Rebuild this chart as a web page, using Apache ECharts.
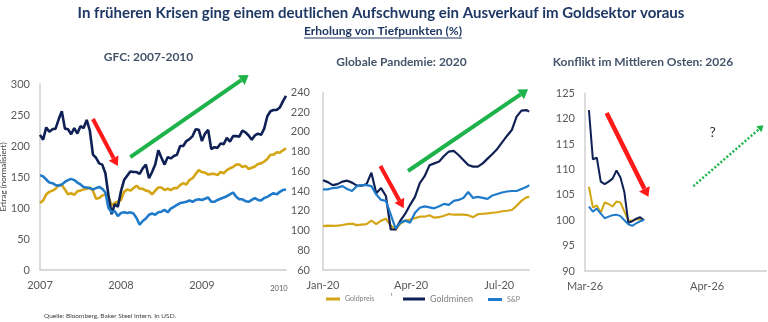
<!DOCTYPE html>
<html><head><meta charset="utf-8">
<script src="https://cdn.jsdelivr.net/npm/echarts@6/dist/echarts.min.js"></script>
<style>html,body{margin:0;padding:0;background:#fff}#c{width:768px;height:322px}</style>
</head><body><div id="c"></div>
<script>
// ---------- DATA ----------
// Panel 1: GFC 2007-2010, bi-weekly observations starting 2007-01-01
const cats1 = [];
for (let i = 0; i < 80; i++) { const d = new Date(Date.UTC(2007, 0, 1 + 14 * i)); cats1.push(d.toISOString().slice(0, 10)); }
const yearTicks1 = {0: '2007', 26: '2008', 52: '2009', 78: '2010'};
const gold1 = [108,112,122,126,128,131,137,137,130,122, 124,121,127,128,130,131,133,128,115,116,
  120,122,118,104,108,110,113,126,130,128, 132,136,131,131,128,127,122,128,133,133,
  129,131,129,132,132,137,140,138,145,148, 155,161,158,157,154,155,155,153,158,156,
  161,164,166,170,170,166,168,163,165,167, 171,172,175,179,186,186,190,189,193,196];
const miners1 = [218,210,230,223,227,228,243,256,228,227, 219,229,220,232,229,242,225,186,181,172,
  170,156,120,90,106,102,127,145,152,159, 158,158,155,164,170,148,158,170,193,181,
  170,182,180,184,186,200,200,208,211,216, 227,226,208,220,226,195,198,197,204,203,
  213,207,216,216,215,225,222,217,210,217, 220,218,228,248,256,258,258,262,272,281];
const sp1 = [153,151,146,141,140,137,136,138,142,145, 147,145,141,138,134,133,132,130,132,134,
  131,125,100,93,95,87,92,93,92,93, 91,84,73,79,83,89,91,89,93,94,
  97,93,99,102,105,108,109,110,112,110, 113,114,113,115,117,110,110,113,115,117,
  119,122,125,118,114,114,111,110,113,116, 113,112,116,118,121,124,122,126,129,130];

// Panel 2: Pandemic 2020, day of year
const days2 = [0,5,10,15,20,25,30,35,40,45,50,55,60,65,70,75,80,85,90,95,100,105,110,115,120,125,130,135,140,145,150,155,160,165,170,175,180,185,190,195,200,205,210,213];
const quarterTicks2 = {0: 'Jan-20', 91: 'Apr-20', 182: 'Jul-20'};
const gold2 = [104.5,105,104.6,105,105.6,106.5,107,105.5,106,106.5, 110,106.5,110,112,105,101,107,110,111,112.5,
  114,114,115.5,113,113.5,115,116.7,116,116,116, 115.5,113.5,116.5,117,117.4,118,118.5,119.5,120,120.8,
  125,130,133.5,134];
const miners2 = [151,149,146,147,149.5,150.5,148.5,145.4,145.4,147, 158.6,137.7,143,135,101,101,110,117,126,134,
  148,155,166,168,170,175.5,180,180.6,176.5,171.5, 166.4,164.7,164.7,168,172.8,177.5,182.6,189.3,195.8,201.8,
  215.4,221.4,222,220.4];
const sp2 = [141.7,141.7,143,143.4,145,142,140,145,146,146, 145,136.5,131,130,116,102,108,110,108,118,
  123,124.5,123.5,122.5,124.5,127,126,130,131,133, 139,133,134,133,132,135.5,137,138.5,139.5,140,
  140,142,144,146];

// Panel 3: Middle East conflict 2026, days after 1 March
const days3 = [1,2,3,4,5,6,7,8,9,10,11,12,13,14,15];
const monthTicks3 = {0: 'Mar-26', 31: 'Apr-26'};
const gold3 = [106.6,102.5,102.9,101.5,103.5,103.2,102.7,103.7,103.5,101.7,100,99.9,100.2,100.2,100];
const miners3 = [121.7,112,112.3,107.6,107.1,107.6,108.2,109.8,108.4,105.5,99.5,99.8,100.3,100.6,100];
const sp3 = [102.7,101.7,102.3,101.3,100.4,100.7,101,101.1,100.8,100,99.2,98.9,99.4,99.8,100.1];

const names = ['Goldpreis', 'Goldminen', 'S&P'];
const colors = ['#d4a514', '#0f2055', '#1f7bc9'];

// ---------- CHART ----------
const FONT = 'Lato, "Open Sans", sans-serif';
const LBL = '#595959', AX = '#d9d9d9';
const chart = echarts.init(document.getElementById('c'), null, {renderer: 'canvas'});

function xy(xs, ys) { return xs.map((x, i) => [x, ys[i]]); }
function baseAxis(extra) {
  return Object.assign({
    axisLine: {show: true, lineStyle: {color: AX, width: 1.8}},
    axisTick: {show: false}, splitLine: {show: false},
    axisLabel: {color: LBL, fontSize: 11, fontFamily: FONT, margin: 10}
  }, extra);
}
function line(name, color, g, data, w) {
  return {name, type: 'line', xAxisIndex: g, yAxisIndex: g, data, symbol: 'none', color,
    lineStyle: {width: w, color}, animation: false};
}

const grids = [
  {left: 40, top: 84, width: 246, height: 186},
  {left: 323, top: 92.3, width: 206.2, height: 177.7},
  {left: 585, top: 93.3, width: 181.2, height: 177.7}
].map(g => Object.assign(g, {containLabel: false, outerBoundsMode: 'none'}));

const xAxes = [
  baseAxis({gridIndex: 0, type: 'category', data: cats1, boundaryGap: false,
    axisLabel: {color: LBL, fontSize: 11, fontFamily: FONT, margin: 10,
      interval: (i) => yearTicks1[i] !== undefined,
      formatter: (v, i) => i === 78 ? '{s|' + yearTicks1[i] + '}' : (yearTicks1[i] || ''),
      rich: {s: {fontSize: 7.5, color: LBL, fontFamily: FONT, padding: [5, 8, 0, 0]}}}}),
  baseAxis({gridIndex: 1, type: 'value', min: 0, max: 213, interval: 91,
    axisLabel: {color: LBL, fontSize: 11, fontFamily: FONT, margin: 10, showMaxLabel: false,
      formatter: v => quarterTicks2[v] || ''}}),
  baseAxis({gridIndex: 2, type: 'value', min: 0, max: 46, interval: 31,
    axisLabel: {color: LBL, fontSize: 11, fontFamily: FONT, margin: 10, showMaxLabel: false,
      formatter: v => monthTicks3[v] || ''}})
];
const yAxes = [
  baseAxis({gridIndex: 0, type: 'value', min: 0, max: 300, interval: 50,
    name: 'Ertrag (normalisiert)', nameLocation: 'middle', nameGap: 32,
    nameTextStyle: {fontSize: 8, color: '#404040', fontFamily: FONT}}),
  baseAxis({gridIndex: 1, type: 'value', min: 60, max: 240, interval: 20,
    axisLabel: {color: LBL, fontSize: 11, fontFamily: FONT, margin: 13}}),
  baseAxis({gridIndex: 2, type: 'value', min: 90, max: 125, interval: 5})
];

const series = [
  line(names[0], colors[0], 0, gold1, 2.6), line(names[1], colors[1], 0, miners1, 2.6), line(names[2], colors[2], 0, sp1, 2.6),
  line(names[0], colors[0], 1, xy(days2, gold2), 2.2), line(names[1], colors[1], 1, xy(days2, miners2), 2.2), line(names[2], colors[2], 1, xy(days2, sp2), 2.2),
  line(names[0], colors[0], 2, xy(days3, gold3), 2), line(names[1], colors[1], 2, xy(days3, miners3), 2), line(names[2], colors[2], 2, xy(days3, sp3), 2)
];

function leg(name, left, top, w, fs) {
  return {data: [name], left, top, icon: 'rect', itemWidth: w, itemHeight: 3, itemGap: 0,
    textStyle: {color: '#7f7f7f', fontSize: fs, fontFamily: FONT}, padding: 0, selectedMode: false};
}

chart.setOption({
  animation: false,
  grid: grids, xAxis: xAxes, yAxis: yAxes, series,
  legend: [leg(names[0], 326, 295.5, 14, 7), leg(names[1], 403, 294.5, 22, 9), leg(names[2], 488, 296, 14, 7)]
});

// ---------- ANNOTATIONS ----------
function arrow(g, a, b, color, width, dash, headL, headW) {
  const p1 = chart.convertToPixel({gridIndex: g}, a);
  const p2 = chart.convertToPixel({gridIndex: g}, b);
  const dx = p2[0] - p1[0], dy = p2[1] - p1[1], L = Math.hypot(dx, dy), ux = dx / L, uy = dy / L;
  const bx = p2[0] - ux * headL, by = p2[1] - uy * headL;
  return [
    {type: 'line', silent: true, shape: {x1: p1[0], y1: p1[1], x2: bx, y2: by},
      style: {stroke: color, lineWidth: width, lineDash: dash || null}},
    {type: 'polygon', silent: true, shape: {points: [[p2[0], p2[1]], [bx - uy * headW, by + ux * headW], [bx + uy * headW, by - ux * headW]]},
      style: {fill: color}}
  ];
}
const RED = '#ff1a1a', GREEN = '#1db34a';
const title = 'In früheren Krisen ging einem deutlichen Aufschwung ein Ausverkauf im Goldsektor voraus';
const subtitle = 'Erholung von Tiefpunkten (%)';
const subFont = 'bold 12px ' + FONT;
const ctx = document.createElement('canvas').getContext('2d');
ctx.font = subFont;
const subW = ctx.measureText(subtitle).width;

function txt(x, y, text, font, fill, align) {
  return {type: 'text', x, y, silent: true,
    style: {text, font, fill, textAlign: align || 'center', textVerticalAlign: 'middle'}};
}

const g = [
  txt(381, 13, title, 'bold 15px ' + FONT, '#1f3864'),
  txt(383, 31, subtitle, subFont, '#1f3864'),
  {type: 'line', silent: true, shape: {x1: 383 - subW / 2, y1: 38, x2: 383 + subW / 2, y2: 38}, style: {stroke: '#1f3864', lineWidth: 1}},
  txt(148.5, 57, 'GFC: 2007-2010', 'bold 12px ' + FONT, '#44546a'),
  txt(401.5, 62, 'Globale Pandemie: 2020', 'bold 12px ' + FONT, '#44546a'),
  txt(643, 62.5, 'Konflikt im Mittleren Osten: 2026', 'bold 12px ' + FONT, '#44546a'),
  txt(44, 316, 'Quelle: Bloomberg, Baker Steel Intern. In USD.', '6.5px ' + FONT, '#404040', 'left'),
  txt(391.7, 297, '¹', '7px ' + FONT, '#808080'),
  txt(...chart.convertToPixel({gridIndex: 2}, [32.4, 117.3]), '?', '14px ' + FONT, '#333333')
].concat(
  arrow(0, [17, 243.5], [25, 167.7], RED, 4, null, 9, 5.5),
  arrow(0, [29, 182], [67, 314.5], GREEN, 4, null, 9, 6),
  arrow(1, [59.3, 165.3], [83.4, 122.5], RED, 4, null, 9, 5.5),
  arrow(1, [87.8, 160.3], [211.8, 243], GREEN, 4, null, 9, 6),
  arrow(2, [5.5, 121.1], [16.1, 104.6], RED, 4.5, null, 9, 6),
  arrow(2, [27.5, 106.7], [45.3, 118.7], GREEN, 2.5, [2, 2], 6, 4)
);
chart.setOption({graphic: g});
</script></body></html>
